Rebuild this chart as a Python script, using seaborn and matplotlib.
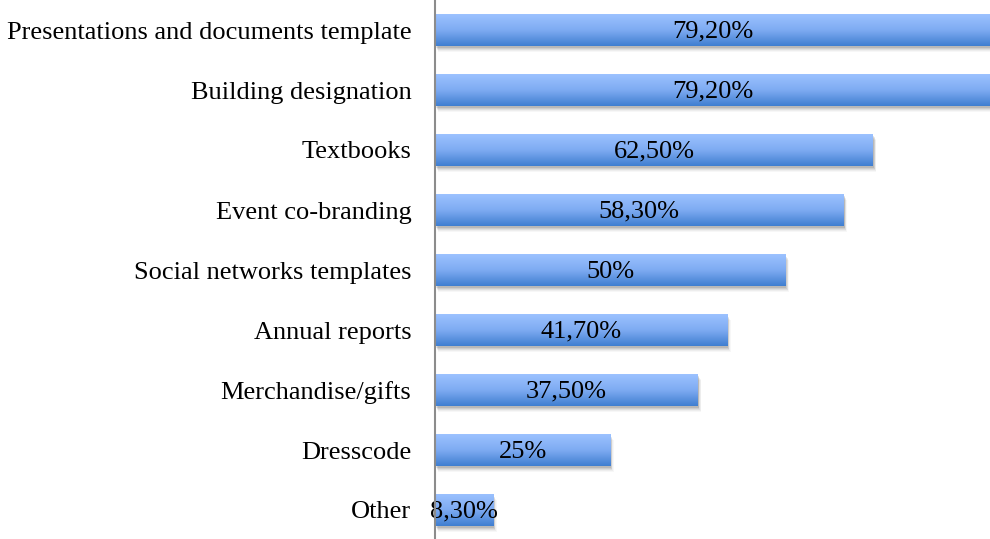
import matplotlib
matplotlib.use("Agg")
import matplotlib.pyplot as plt
import seaborn as sns
import numpy as np
import pandas as pd
from matplotlib.patches import Rectangle
from matplotlib.colors import LinearSegmentedColormap

categories = ["Presentations and documents template", "Building designation", "Textbooks",
              "Event co-branding", "Social networks templates", "Annual reports",
              "Merchandise/gifts", "Dresscode", "Other"]
values = [79.2, 79.2, 62.5, 58.3, 50.0, 41.7, 37.5, 25.0, 8.3]
value_labels = ["79,20%", "79,20%", "62,50%", "58,30%", "50%", "41,70%", "37,50%", "25%", "8,30%"]

df = pd.DataFrame({"category": categories, "value": values})

sns.set_theme(style="white")
plt.rcParams["font.family"] = ["Liberation Serif", "DejaVu Serif"]

fig = plt.figure(figsize=(9.9, 5.39), dpi=100)
ax = fig.add_axes([435/990, 0, 555/990, 1])

bar_h = 32/60
sns.barplot(data=df, y="category", x="value", orient="h", ax=ax, width=bar_h,
            color="#6a9fe8", saturation=1, edgecolor="none")

ax.set_xlim(0, 79.2)
ax.set_ylim(8 + 29/60, -0.5)

cmap = LinearSegmentedColormap.from_list("g", ["#9cc2ff", "#7eabf2", "#3f7ed0"])
grad = np.linspace(0, 1, 256).reshape(-1, 1)

xpp = 79.2 / 555.0
ypp = 1 / 60.0
for p in list(ax.patches):
    x0, y0, w, h = p.get_x(), p.get_y(), p.get_width(), p.get_height()
    for k, a in enumerate([0.10, 0.08, 0.06, 0.04, 0.03]):
        sh = Rectangle((x0 + 1*xpp + k*xpp*0.6, y0 + 2*ypp + k*ypp), w, h,
                       facecolor="#000000", alpha=a, edgecolor="none", zorder=1)
        ax.add_patch(sh)
    p.set_zorder(2)
    im = ax.imshow(grad, extent=(x0, x0 + w, y0 + h, y0), aspect="auto",
                   cmap=cmap, zorder=3, origin="upper")
    im.set_clip_path(p)

for i, (v, lab) in enumerate(zip(values, value_labels)):
    ax.text(v / 2, i + 0.03, lab, ha="center", va="center", fontsize=19, color="black", zorder=5)

ax.set_xlabel("")
ax.set_ylabel("")
ax.set_xticks([])
ax.tick_params(axis="y", length=0, pad=17, labelsize=19)
for lab in ax.get_yticklabels():
    lab.set_color("black")
for s in ["top", "right", "bottom"]:
    ax.spines[s].set_visible(False)
ax.spines["left"].set_color("#8c8c8c")
ax.spines["left"].set_linewidth(1.5)
ax.spines["left"].set_zorder(6)
ax.set_facecolor("white")

fig.savefig("out.png", dpi=100, facecolor="white")
